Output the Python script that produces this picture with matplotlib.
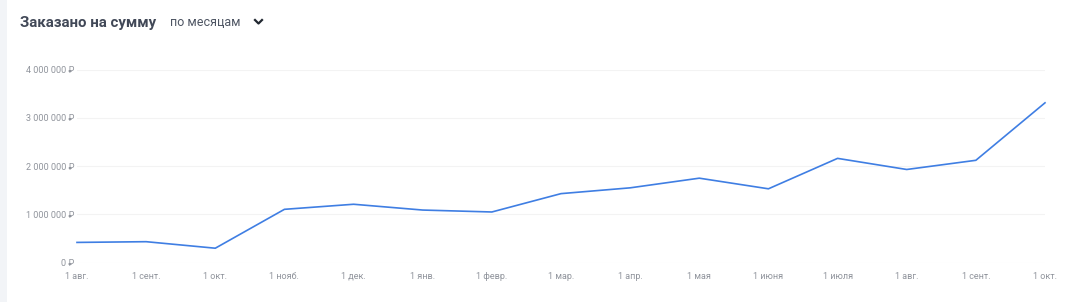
import matplotlib
matplotlib.use("Agg")
import matplotlib.pyplot as plt
from matplotlib.patches import Rectangle
from matplotlib.lines import Line2D
from matplotlib.ticker import FuncFormatter

plt.rcParams['font.family'] = ['Roboto', 'DejaVu Sans']

months = ['1 авг.', '1 сент.', '1 окт.', '1 нояб.', '1 дек.', '1 янв.', '1 февр.',
          '1 мар.', '1 апр.', '1 мая', '1 июня', '1 июля', '1 авг.', '1 сент.', '1 окт.']
amounts = [420000, 435000, 300000, 1105000, 1210000, 1090000, 1050000,
           1430000, 1550000, 1750000, 1530000, 2160000, 1930000, 2120000, 3310000]
y_ticks = [0, 1000000, 2000000, 3000000, 4000000]
title = 'Заказано на сумму'
period = 'по месяцам'

W, H = 1083, 302
fig = plt.figure(figsize=(W / 100, H / 100), dpi=100)
fig.patch.set_facecolor('white')

# left grey strip
fig.patches.append(Rectangle((0, 0), 7 / W, 1, transform=fig.transFigure,
                             facecolor='#f2f4f7', edgecolor='none'))

ax = fig.add_axes([77 / W, (H - 262.7) / H, 968 / W, (262.7 - 69.5) / H])
x = list(range(len(months)))
ax.plot(x, amounts, color='#3f7ee3', linewidth=1.2, clip_on=False, zorder=3)
ax.set_xlim(0, len(months) - 1)
ax.set_ylim(0, 4000000)
ax.set_xticks(x)
ax.set_xticklabels(months, va='baseline')
ax.set_yticks(y_ticks)
ax.yaxis.set_major_formatter(FuncFormatter(lambda v, p: f"{int(v):,}".replace(',', ' ') + ' ₽'))
ax.grid(axis='y', color='#f3f3f3', linewidth=0.8)
ax.set_axisbelow(True)
for s in ax.spines.values():
    s.set_visible(False)
ax.tick_params(axis='both', length=0, labelsize=6.5, labelcolor='#90949c')
ax.tick_params(axis='y', pad=2)
ax.tick_params(axis='x', pad=11.5)

fig.text(20 / W, 1 - 27.5 / H, title, fontsize=10.8, fontweight='bold', color='#414857',
         ha='left', va='baseline')
fig.text(170 / W, 1 - 26 / H, period, fontsize=9, color='#4e5563',
         ha='left', va='baseline')
fig.lines.append(Line2D([255 / W, 258.5 / W, 262 / W], [1 - 20 / H, 1 - 23.5 / H, 1 - 20 / H],
                        transform=fig.transFigure, color='#222831', linewidth=1.6))

fig.savefig('out.png', dpi=100, facecolor='white')
